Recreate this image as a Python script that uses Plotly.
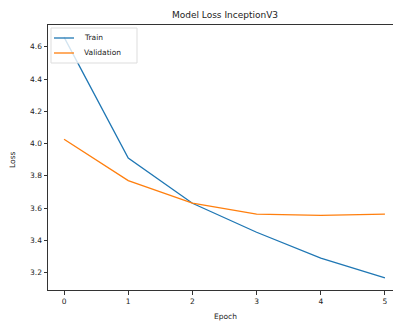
import plotly.graph_objects as go

epochs = [0, 1, 2, 3, 4, 5]
train_loss = [4.66, 3.91, 3.63, 3.45, 3.29, 3.167]
val_loss = [4.027, 3.77, 3.63, 3.562, 3.555, 3.563]
y_ticks = [3.2, 3.4, 3.6, 3.8, 4.0, 4.2, 4.4, 4.6]
series_names = ["Train", "Validation"]
series_colors = ["#1f77b4", "#ff7f0e"]

# page body has an 8px margin, so the figure is sized/offset to compensate
W, H = 393, 314
L, R, T, B = 40, 0, 17, 32
PW, PH = W - L - R, H - T - B

fig = go.Figure()
for name, ys, col in zip(series_names, [train_loss, val_loss], series_colors):
    fig.add_trace(go.Scatter(x=epochs, y=ys, mode="lines", name=name,
                             line=dict(color=col, width=1.3), showlegend=False))

font = dict(family="DejaVu Sans", size=7.5, color="#222")
axis_common = dict(showgrid=False, zeroline=False, showline=True, linecolor="#333",
                   linewidth=1, mirror=True, ticks="outside", ticklen=3.5,
                   tickcolor="#333", tickfont=font, automargin=False)

shapes = [dict(type="rect", xref="paper", yref="paper",
               x0=3 / PW, x1=89 / PW, y0=1 - 38 / PH, y1=1 - 3 / PH,
               line=dict(color="#ddd", width=1), fillcolor="rgba(255,255,255,0.8)", layer="above")]
annotations = [
    dict(text="Epoch", xref="paper", yref="paper", x=(225 - 48) / PW, y=-(316 - 290) / PH,
         xanchor="center", yanchor="middle", showarrow=False, font=font),
    dict(text="Loss", xref="paper", yref="paper", x=-(48 - 12) / PW, y=(290 - 160) / PH,
         xanchor="center", yanchor="middle", showarrow=False, font=font, textangle=-90),
]
for i, (name, col) in enumerate(zip(series_names, series_colors)):
    yy = 1 - (13 + 15 * i) / PH
    shapes.append(dict(type="line", xref="paper", yref="paper", x0=6 / PW, x1=26 / PW,
                       y0=yy, y1=yy, line=dict(color=col, width=1.3), layer="above"))
    annotations.append(dict(text=name, xref="paper", yref="paper", x=34 / PW, y=yy,
                            xanchor="left", yanchor="middle", showarrow=False, font=font))

fig.update_layout(
    width=W, height=H,
    margin=dict(l=L, r=R, t=T, b=B, autoexpand=False),
    paper_bgcolor="white", plot_bgcolor="white",
    title=dict(text="Model Loss InceptionV3", x=(225 - 8) / W, xanchor="center",
               y=1 - 7 / H, yanchor="middle",
               font=dict(family="DejaVu Sans", size=9, color="#222")),
    xaxis=dict(range=[-0.25, 5.25], tickvals=epochs, ticktext=[str(e) for e in epochs],
               **axis_common),
    yaxis=dict(range=[3.092, 4.735], tickvals=y_ticks, ticktext=[f"{v:.1f}" for v in y_ticks],
               **axis_common),
    showlegend=False,
    shapes=shapes,
    annotations=annotations,
)

fig.write_html("out.html")
